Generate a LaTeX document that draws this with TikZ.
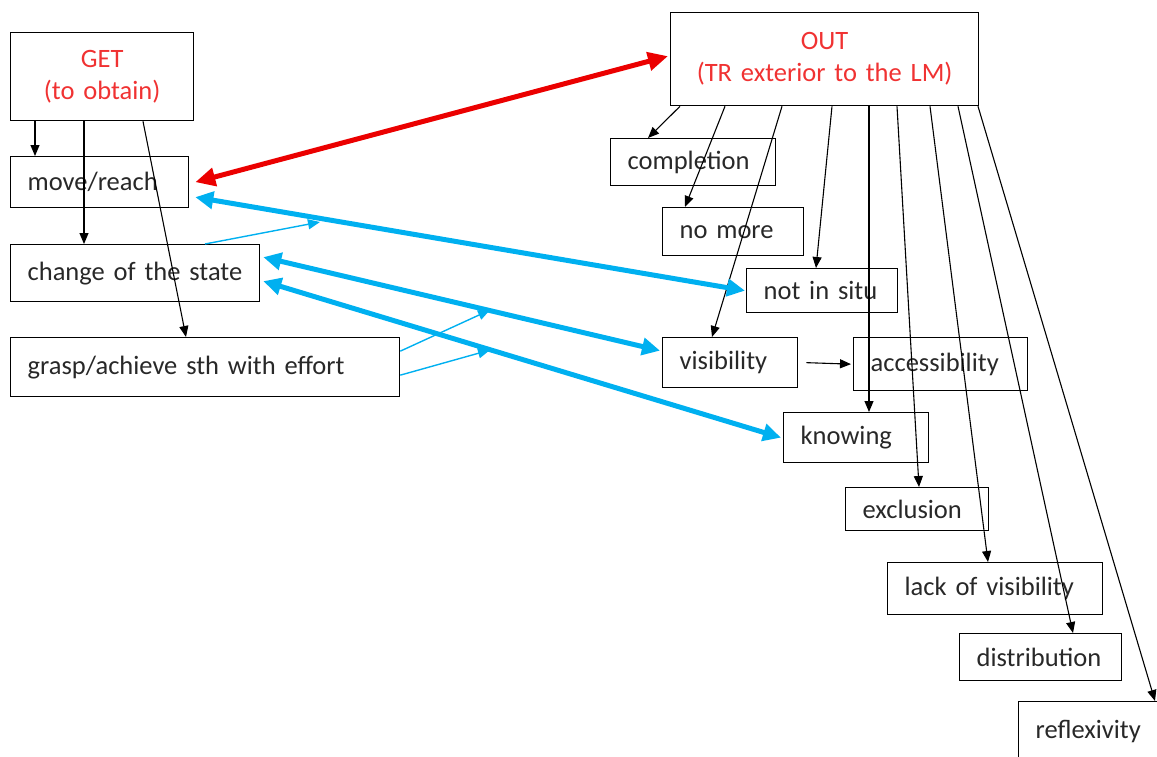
\documentclass[tikz,border=0pt]{standalone}
\usepackage{fontspec}
\setmainfont{Carlito}
\usetikzlibrary{arrows.meta}
\definecolor{outred}{RGB}{235,0,0}
\definecolor{txtred}{RGB}{240,50,50}
\definecolor{lblue}{RGB}{0,176,240}
\definecolor{txtgray}{RGB}{40,40,40}
\begin{document}
\begin{tikzpicture}[x=1pt,y=-1pt,
  box/.style={draw, line width=1.3pt, inner xsep=17pt, inner ysep=0pt, anchor=north west,
    align=left, text=txtgray, font=\fontsize{26.5}{32}\selectfont},
  head/.style={draw, line width=1.3pt, inner xsep=17pt, inner ysep=0pt, anchor=north west,
    align=center, text=txtred, font=\fontsize{26.5}{32}\selectfont},
  blk/.style={-{Triangle[length=11pt,width=9pt]}, line width=1.1pt},
  redarr/.style={{Triangle[length=20pt,width=18pt]}-{Triangle[length=20pt,width=18pt]}, line width=5pt, draw=outred},
  bluearr/.style={{Triangle[length=18pt,width=17pt]}-{Triangle[length=18pt,width=17pt]}, line width=5pt, draw=lblue},
  thinblue/.style={-{Triangle[length=12pt,width=10pt]}, line width=1.4pt, draw=lblue}]
\useasboundingbox (0,0) rectangle (1157,756);
% left boxes
\node[head, text width=149pt, minimum height=88pt] (get) at (10,32) {GET\\(to obtain)};
\node[box, text width=144pt, minimum height=51pt] (move) at (10,156) {\mbox{move/reach}};
\node[box, text width=215pt, minimum height=57pt] (change) at (10,244) {\mbox{change of the state}};
\node[box, text width=355pt, minimum height=59pt] (grasp) at (10,337) {\mbox{grasp/achieve sth with effort}};
% right boxes
\node[head, text width=274pt, minimum height=93pt] (out) at (670,12) {OUT\\(TR exterior to the LM)};
\node[box, text width=131pt, minimum height=47pt] (compl) at (610,138) {\mbox{completion}};
\node[box, text width=107pt, minimum height=48pt] (nomore) at (662,207) {\mbox{no more}};
\node[box, text width=117pt, minimum height=44pt] (nis) at (746,268) {\mbox{not in situ}};
\node[box, text width=101pt, minimum height=50pt] (vis) at (662,337) {\mbox{visibility}};
\node[box, text width=140pt, minimum height=53pt] (acc) at (853,337) {\mbox{accessibility}};
\node[box, text width=111pt, minimum height=50pt] (know) at (783,412) {\mbox{knowing}};
\node[box, text width=109pt, minimum height=43pt] (excl) at (845,487) {\mbox{exclusion}};
\node[box, text width=181pt, minimum height=52pt] (lack) at (887,562) {\mbox{lack of visibility}};
\node[box, text width=128pt, minimum height=47pt] (distr) at (959,633) {\mbox{distribution}};
\node[box, text width=126pt, minimum height=60pt] (refl) at (1018,701) {\mbox{reflexivity}};
% GET arrows
\draw[blk] ([xshift=25pt]get.south west) -- ([xshift=25pt]move.north west);
\draw[blk] ([xshift=74pt]get.south west) -- ([xshift=74pt]change.north west);
\draw[blk] ([xshift=133pt]get.south west) -- ([xshift=176pt]grasp.north west);
% OUT arrows
\draw[blk] ([xshift=10pt]out.south west) -- ([xshift=38pt]compl.north west);
\draw[blk] ([xshift=55pt]out.south west) -- ([xshift=23pt]nomore.north west);
\draw[blk] ([xshift=112pt]out.south west) -- ([xshift=50pt]vis.north west);
\draw[blk] ([xshift=162pt]out.south west) -- ([xshift=70pt]nis.north west);
\draw[blk] ([xshift=199pt]out.south west) -- ([xshift=86pt]know.north west);
\draw[blk] ([xshift=227pt]out.south west) -- ([xshift=74pt]excl.north west);
\draw[blk] ([xshift=260pt]out.south west) -- ([xshift=101pt]lack.north west);
\draw[blk] ([xshift=288pt]out.south west) -- ([xshift=114pt]distr.north west);
\draw[blk] ([xshift=308pt]out.south west) -- ([xshift=137pt]refl.north west);
\draw[blk] ([xshift=8pt]vis.east) -- ([xshift=-2pt]acc.west);
% red double arrow
\draw[redarr] ([xshift=6pt]move.east) -- ([xshift=-2pt,yshift=3pt]out.west);
% blue double arrows
\draw[bluearr] ([xshift=6pt,yshift=-15pt]move.east) -- ([xshift=-1pt]nis.west);
\draw[bluearr] ([xshift=3pt,yshift=16pt]change.east) -- ([xshift=-2pt,yshift=12pt]vis.west);
\draw[bluearr] ([xshift=3pt,yshift=-8pt]change.east) -- ([xshift=-2pt]know.west);
% thin blue arrows
\coordinate (t1) at (320,222);
\coordinate (t2) at (490,310);
\coordinate (t3) at (490,350);
\draw[thinblue] ([xshift=195pt]change.north west) -- (t1);
\draw[thinblue] ([yshift=16pt]grasp.east) -- (t2);
\draw[thinblue] ([yshift=-8pt]grasp.east) -- (t3);
\end{tikzpicture}
\end{document}
